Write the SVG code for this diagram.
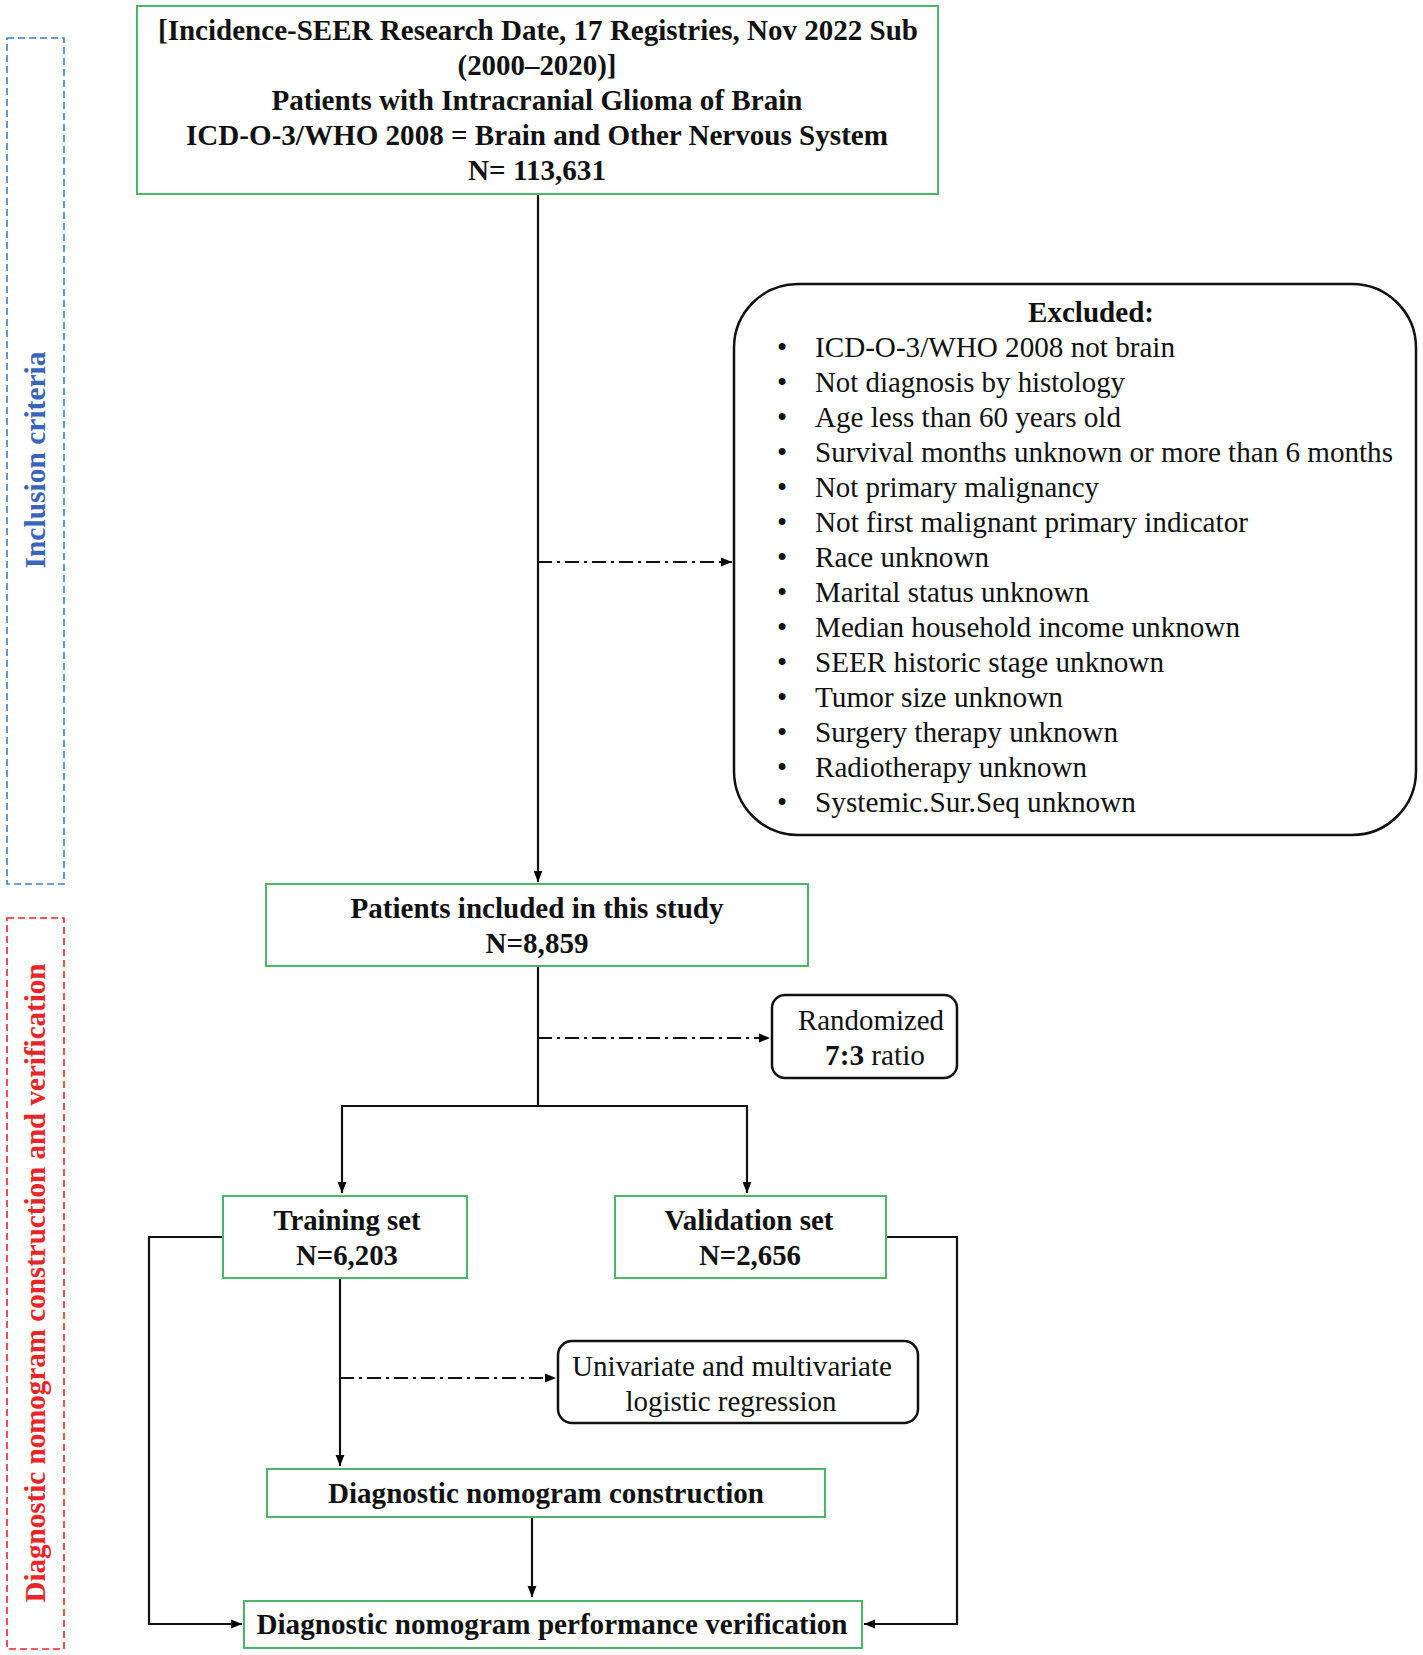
<svg xmlns="http://www.w3.org/2000/svg" width="1423" height="1655" viewBox="0 0 1423 1655">
<defs>
<marker id="ah" viewBox="0 0 10 10" refX="10" refY="5" markerWidth="11" markerHeight="11" markerUnits="userSpaceOnUse" orient="auto">
<path d="M0,1 L10,5 L0,9 z" fill="#000"/>
</marker>
<style>
.box{fill:#fff;stroke:#4cb56a;stroke-width:2}
.rbox{fill:#fff;stroke:#111;stroke-width:2.5}
.ln{fill:none;stroke:#111;stroke-width:2.2}
.dd{fill:none;stroke:#111;stroke-width:2.2;stroke-dasharray:14 5 3 5}
.b{font-family:"Liberation Serif","Times New Roman",serif;font-weight:bold;font-size:29px;fill:#111}
.r{font-family:"Liberation Serif","Times New Roman",serif;font-size:29px;fill:#111}
.c{text-anchor:middle}
</style>
</defs>
<rect width="1423" height="1655" fill="#fff"/>

<g id="section-inclusion">
<rect x="7" y="38" width="57" height="846" fill="none" stroke="#3b7fc4" stroke-width="1.6" stroke-dasharray="7 4"/>
<text class="b c" transform="translate(45,460) rotate(-90)" style="fill:#3a64b8" textLength="217" lengthAdjust="spacingAndGlyphs">Inclusion criteria</text>
</g>
<g id="section-diagnostic">
<rect x="7" y="918" width="57" height="731" fill="none" stroke="#e8262a" stroke-width="1.6" stroke-dasharray="7 4"/>
<text class="b c" transform="translate(45,1283) rotate(-90)" style="fill:#e8262a" textLength="639" lengthAdjust="spacingAndGlyphs">Diagnostic nomogram construction and verification</text>
</g>

<g id="connectors">
<path class="ln" d="M538,194 V882" marker-end="url(#ah)"/>
<path class="dd" d="M538,562 H732" marker-end="url(#ah)"/>
<path class="ln" d="M538,966 V1106"/>
<path class="dd" d="M538,1038 H770" marker-end="url(#ah)"/>
<path class="ln" d="M342,1106 H747"/>
<path class="ln" d="M342,1105 V1193" marker-end="url(#ah)"/>
<path class="ln" d="M747,1105 V1193" marker-end="url(#ah)"/>
<path class="ln" d="M340,1278 V1466" marker-end="url(#ah)"/>
<path class="dd" d="M340,1378 H556" marker-end="url(#ah)"/>
<path class="ln" d="M532,1517 V1597" marker-end="url(#ah)"/>
<path class="ln" d="M223,1237 H149 V1624 H242" marker-end="url(#ah)"/>
<path class="ln" d="M886,1237 H957 V1624 H864" marker-end="url(#ah)"/>
</g>

<g id="node-source">
<rect class="box" x="137" y="6" width="801" height="188"/>
<text class="b c" x="538" y="40" textLength="760" lengthAdjust="spacingAndGlyphs">[Incidence-SEER Research Date, 17 Registries, Nov 2022 Sub</text>
<text class="b c" x="537" y="75" textLength="159" lengthAdjust="spacingAndGlyphs">(2000–2020)]</text>
<text class="b c" x="537" y="110" textLength="531" lengthAdjust="spacingAndGlyphs">Patients with Intracranial Glioma of Brain</text>
<text class="b c" x="537" y="145" textLength="702" lengthAdjust="spacingAndGlyphs">ICD-O-3/WHO 2008 = Brain and Other Nervous System</text>
<text class="b c" x="537" y="180" textLength="138" lengthAdjust="spacingAndGlyphs">N= 113,631</text>
</g>

<g id="node-excluded">
<rect class="rbox" x="734" y="284" width="682" height="551" rx="64" ry="64"/>
<text class="b c" x="1091" y="322" textLength="126" lengthAdjust="spacingAndGlyphs">Excluded:</text>
<g class="r">
<text x="777" y="357">•</text><text x="815" y="357" textLength="360" lengthAdjust="spacingAndGlyphs">ICD-O-3/WHO 2008 not brain</text>
<text x="777" y="392">•</text><text x="815" y="392" textLength="310" lengthAdjust="spacingAndGlyphs">Not diagnosis  by histology</text>
<text x="777" y="427">•</text><text x="815" y="427" textLength="306" lengthAdjust="spacingAndGlyphs">Age less than 60 years old</text>
<text x="777" y="462">•</text><text x="815" y="462" textLength="578" lengthAdjust="spacingAndGlyphs">Survival months unknown or more than 6 months</text>
<text x="777" y="497">•</text><text x="815" y="497" textLength="284" lengthAdjust="spacingAndGlyphs">Not primary malignancy</text>
<text x="777" y="532">•</text><text x="815" y="532" textLength="433" lengthAdjust="spacingAndGlyphs">Not first malignant  primary indicator</text>
<text x="777" y="567">•</text><text x="815" y="567" textLength="174" lengthAdjust="spacingAndGlyphs">Race unknown</text>
<text x="777" y="602">•</text><text x="815" y="602" textLength="274" lengthAdjust="spacingAndGlyphs">Marital status unknown</text>
<text x="777" y="637">•</text><text x="815" y="637" textLength="425" lengthAdjust="spacingAndGlyphs">Median household income unknown</text>
<text x="777" y="672">•</text><text x="815" y="672" textLength="349" lengthAdjust="spacingAndGlyphs">SEER historic stage unknown</text>
<text x="777" y="707">•</text><text x="815" y="707" textLength="248" lengthAdjust="spacingAndGlyphs">Tumor size unknown</text>
<text x="777" y="742">•</text><text x="815" y="742" textLength="303" lengthAdjust="spacingAndGlyphs">Surgery  therapy unknown</text>
<text x="777" y="777">•</text><text x="815" y="777" textLength="272" lengthAdjust="spacingAndGlyphs">Radiotherapy unknown</text>
<text x="777" y="812">•</text><text x="815" y="812" textLength="321" lengthAdjust="spacingAndGlyphs">Systemic.Sur.Seq  unknown</text>
</g>
</g>

<g id="node-included">
<rect class="box" x="266" y="884" width="542" height="82"/>
<text class="b c" x="537" y="918" textLength="373" lengthAdjust="spacingAndGlyphs">Patients included in this study</text>
<text class="b c" x="537" y="953" textLength="103" lengthAdjust="spacingAndGlyphs">N=8,859</text>
</g>

<g id="node-randomized">
<rect class="rbox" x="772" y="995" width="185" height="83" rx="13" ry="13"/>
<text class="r c" x="871" y="1030" textLength="146" lengthAdjust="spacingAndGlyphs">Randomized</text>
<text class="r c" x="875" y="1065" textLength="100" lengthAdjust="spacingAndGlyphs"><tspan font-weight="bold">7:3</tspan> ratio</text>
</g>

<g id="node-training">
<rect class="box" x="223" y="1196" width="244" height="82"/>
<text class="b c" x="347" y="1230" textLength="147" lengthAdjust="spacingAndGlyphs">Training set</text>
<text class="b c" x="347" y="1265" textLength="102" lengthAdjust="spacingAndGlyphs">N=6,203</text>
</g>

<g id="node-validation">
<rect class="box" x="615" y="1196" width="271" height="82"/>
<text class="b c" x="749" y="1230" textLength="169" lengthAdjust="spacingAndGlyphs">Validation set</text>
<text class="b c" x="750" y="1265" textLength="102" lengthAdjust="spacingAndGlyphs">N=2,656</text>
</g>

<g id="node-regression">
<rect class="rbox" x="558" y="1341" width="360" height="82" rx="14" ry="14"/>
<text class="r c" x="732" y="1376" textLength="320" lengthAdjust="spacingAndGlyphs">Univariate and multivariate</text>
<text class="r c" x="731" y="1411" textLength="211" lengthAdjust="spacingAndGlyphs">logistic regression</text>
</g>

<g id="node-construction">
<rect class="box" x="267" y="1469" width="558" height="48"/>
<text class="b c" x="546" y="1503" textLength="436" lengthAdjust="spacingAndGlyphs">Diagnostic nomogram  construction</text>
</g>

<g id="node-verification">
<rect class="box" x="244" y="1601" width="618" height="47"/>
<text class="b c" x="552" y="1634" textLength="591" lengthAdjust="spacingAndGlyphs">Diagnostic nomogram  performance verification</text>
</g>
</svg>
